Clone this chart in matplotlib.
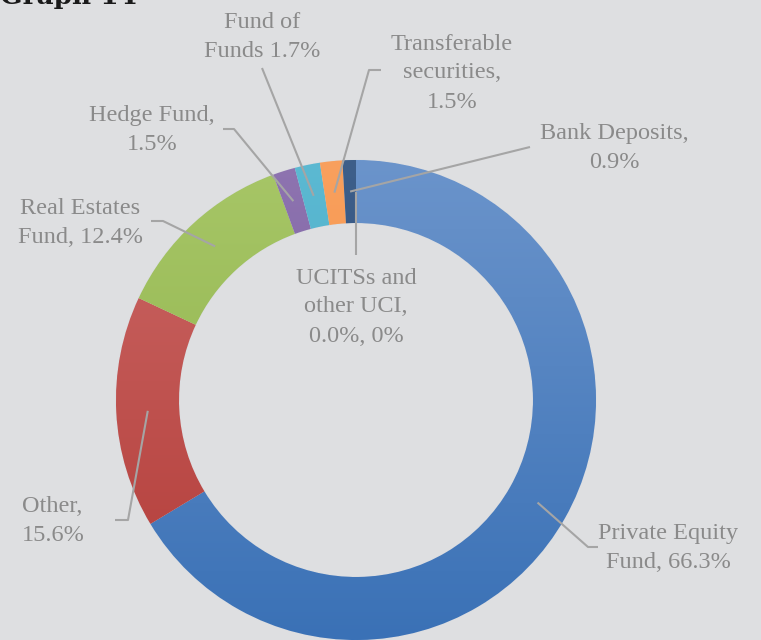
import numpy as np
import matplotlib
matplotlib.use("Agg")
import matplotlib.pyplot as plt

# data
labels = ["Private Equity\nFund, 66.3%", "Other,\n15.6%", "Real Estates\nFund, 12.4%",
          "Hedge Fund,\n1.5%", "Fund of\nFunds 1.7%", "Transferable\nsecurities,\n1.5%",
          "Bank Deposits,\n0.9%", "UCITSs and\nother UCI,\n0.0%, 0%"]
values = [66.3, 15.6, 12.4, 1.5, 1.7, 1.5, 0.9, 0.0]
top_colors = ["#6b94cb", "#cc6a68", "#a7c667", "#8e74b0", "#5cb9d2", "#f9a05e", "#3e5f8a", "#808080"]
bot_colors = ["#3a71b6", "#b23a36", "#8aaf45", "#72559a", "#3fa3c0", "#f28a36", "#1f4373", "#808080"]

# label layout (pixel coords, y from top): elbow, end of leader, text centre
elbows = [(588, 547), (128, 520), (163, 221), (234, 129), (262, 68), (369, 70), (530, 147), (356, 255)]
ends = [(598, 547), (115, 520), (151, 221), (223, 129), (262, 68), (381, 70), (530, 147), (356, 255)]
text_pos = [(668, 548), (52, 521), (80, 223), (152, 130), (262, 37), (452, 73), (614, 148), (356, 307)]
text_ha = ["center", "left", "center", "center", "center", "center", "center", "center"]

W, H = 761, 640
bg = "#dedfe1"
cx, cy, R, ring = 356, 400, 240, 63

fig = plt.figure(figsize=(W / 100, H / 100), dpi=100, facecolor=bg)
ax = fig.add_axes([0, 0, 1, 1])
ax.set_facecolor(bg)

wedges, _ = ax.pie(values, center=(cx, H - cy), radius=R, startangle=90, counterclock=False,
                   colors=top_colors, wedgeprops=dict(width=ring, linewidth=0.6, edgecolor="#d8dbe0"),
                   normalize=True)
ax.set_xlim(0, W)
ax.set_ylim(0, H)
ax.set_aspect("equal")
ax.axis("off")

# vertical gradient inside each slice
yy = np.linspace(1, 0, 256).reshape(-1, 1, 1)
for w, c1, c2 in zip(wedges, top_colors, bot_colors):
    a = np.array(matplotlib.colors.to_rgb(c1))
    b = np.array(matplotlib.colors.to_rgb(c2))
    img = np.repeat(a * yy + b * (1 - yy), 2, axis=1)
    im = ax.imshow(img, extent=(cx - R, cx + R, H - cy - R, H - cy + R), origin="upper",
                   aspect="auto", zorder=w.get_zorder() + 0.1)
    im.set_clip_path(w)
ax.set_xlim(0, W)
ax.set_ylim(0, H)

txt_kw = dict(family=["Liberation Serif", "DejaVu Serif"], fontsize=17.5, color="#8a8a8a",
              va="center", linespacing=1.5, zorder=5)
r_mid = R - ring / 2
for w, lab, el, en, tp, ha in zip(wedges, labels, elbows, ends, text_pos, text_ha):
    ang = np.deg2rad((w.theta1 + w.theta2) / 2)
    sx = cx + r_mid * np.cos(ang)
    sy = H - cy + r_mid * np.sin(ang)
    ax.plot([sx, el[0], en[0]], [sy, H - el[1], H - en[1]], color="#a5a5a5", lw=1.5,
            solid_capstyle="butt", zorder=4)
    x = 22 if ha == "left" else tp[0]
    ax.text(x, H - tp[1], lab, ha=ha, multialignment=ha, **txt_kw)

# title is cut off by the top edge, as in the original page crop
ax.text(0, H - 4, "Graph 14", family=["DejaVu Serif"], fontweight="bold", fontsize=19,
        color="#1a1a1a", ha="left", va="baseline")

fig.savefig("out.png", dpi=100, facecolor=bg)
